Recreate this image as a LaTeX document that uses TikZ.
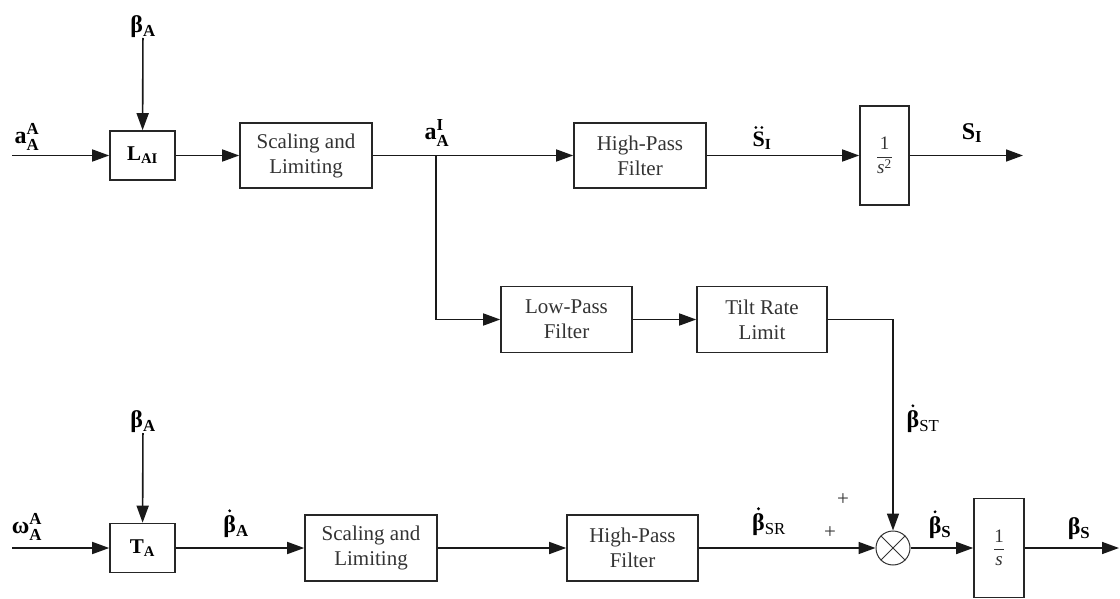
\documentclass[tikz,border=0pt]{standalone}
\usepackage{amsmath}
\usepackage{fontspec}
\setmainfont{Liberation Serif}
\usetikzlibrary{arrows.meta}
\begin{document}
\begin{tikzpicture}[x=1pt,y=-1pt,
  blk/.style={draw=black!85, line width=1.6pt, inner sep=0pt, align=center, font=\fontsize{21}{25}\selectfont, text=black!80},
  lbl/.style={inner sep=0pt, font=\fontsize{24}{28}\selectfont\bfseries},
  pm/.style={inner sep=0pt, font=\fontsize{21}{22}\selectfont, text=black!80},
  sig/.style={line width=1.6pt, draw=black!90, -{Triangle[length=17pt,width=12pt]}},
  wire/.style={line width=1.6pt, draw=black!90},
  dotmark/.style={fill=black},
]
\useasboundingbox (0,0) rectangle (1120,599);

% ---------- top row ----------
\coordinate (ain) at (12,155.5);
\node[blk, minimum width=65pt, minimum height=49pt, font=\fontsize{21}{25}\selectfont\bfseries, text=black] (lai) at (142.5,155.5) {L$_{\text{AI}}$};
\node[lbl, anchor=south] (bA1) at (143,38) {β$_{\text{A}}$};
\node[lbl] (aAA) at (27,137) {a$^{\text{A}}_{\text{A}}$};
\node[blk, minimum width=132pt, minimum height=65pt] (sc1) at (306,155.5) {Scaling and\\Limiting};
\coordinate (J) at (436,155.5);
\node[lbl] (aAI) at (437,133) {a$^{\text{I}}_{\text{A}}$};
\node[blk, minimum width=132pt, minimum height=65pt] (hp1) at (640,155.5) {High-Pass\\Filter};
\node[lbl, font=\fontsize{22}{26}\selectfont\bfseries] (Sdd) at (762,141) {S$_{\text{I}}$};
\fill[dotmark] ([xshift=3.5pt,yshift=4.5pt]Sdd.north west) circle (1.5pt);
\fill[dotmark] ([xshift=9.5pt,yshift=4.5pt]Sdd.north west) circle (1.5pt);
\node[blk, minimum width=49pt, minimum height=99pt, font=\fontsize{19}{22}\selectfont] (int2) at (884.5,155.5) {$\dfrac{\text{1}}{\text{\itshape s}^{\text{2}}}$};
\coordinate (sI) at (1023,155.5);
\node[lbl] (SI) at (972,133) {S$_{\text{I}}$};

% ---------- middle row ----------
\node[blk, minimum width=131pt, minimum height=66pt] (lp) at (566.5,319.5) {Low-Pass\\Filter};
\node[blk, minimum width=130pt, minimum height=66pt] (tr) at (762,319.5) {Tilt Rate\\Limit};
\node[lbl] (bST) at (923,422) {β$_{\text{\mdseries ST}}$};
\fill[dotmark] ([xshift=6.5pt,yshift=5pt]bST.north west) circle (1.6pt);

% ---------- bottom row ----------
\coordinate (win) at (12,548);
\node[lbl] (wAA) at (27,527) {ω$^{\text{A}}_{\text{A}}$};
\node[blk, minimum width=65pt, minimum height=49pt, font=\fontsize{21}{25}\selectfont\bfseries, text=black] (ta) at (142.5,548) {T$_{\text{A}}$};
\node[lbl, anchor=south] (bA2) at (143,433) {β$_{\text{A}}$};
\node[lbl] (bdA) at (236,527) {β$_{\text{A}}$};
\fill[dotmark] ([xshift=6.5pt,yshift=5pt]bdA.north west) circle (1.6pt);
\node[blk, minimum width=132pt, minimum height=66pt] (sc2) at (371,548) {Scaling and\\Limiting};
\node[blk, minimum width=131pt, minimum height=66pt] (hp2) at (632.5,548) {High-Pass\\Filter};
\node[lbl] (bSR) at (769,525) {β$_{\text{\mdseries SR}}$};
\fill[dotmark] ([xshift=6.5pt,yshift=5pt]bSR.north west) circle (1.6pt);
\node[pm] (p1) at (843,500) {+};
\node[pm] (p2) at (830,533) {+};
\node[circle, draw=black!80, line width=1pt, minimum size=34pt, inner sep=0pt] (sum) at (893,548) {};
\draw[line width=1pt, black!80] (sum.north east) -- (sum.south west) (sum.north west) -- (sum.south east);
\node[lbl] (bdS) at (940,528) {β$_{\text{S}}$};
\fill[dotmark] ([xshift=6.5pt,yshift=5pt]bdS.north west) circle (1.6pt);
\node[blk, minimum width=50pt, minimum height=99pt, font=\fontsize{19}{22}\selectfont] (int1) at (999,548) {$\dfrac{\text{1}}{\text{\itshape s}}$};
\coordinate (bSo) at (1119,548);
\node[lbl] (bS) at (1079,529) {β$_{\text{S}}$};

% ---------- connectors ----------
\draw[sig] (ain) -- (lai);
\draw[sig] (bA1) -- (lai);
\draw[sig] (lai) -- (sc1);
\draw[wire] (sc1) -- (J);
\draw[sig] (J) -- (hp1);
\draw[sig] (hp1) -- (int2);
\draw[sig] (int2) -- (sI);
\draw[sig] (J) |- (lp);
\draw[sig] (lp) -- (tr);
\draw[sig] (tr) -| (sum);
\draw[sig] (win) -- (ta);
\draw[sig] (bA2) -- (ta);
\draw[sig] (ta) -- (sc2);
\draw[sig] (sc2) -- (hp2);
\draw[sig] (hp2) -- (sum);
\draw[sig] (sum) -- (int1);
\draw[sig] (int1) -- (bSo);
\end{tikzpicture}
\end{document}
